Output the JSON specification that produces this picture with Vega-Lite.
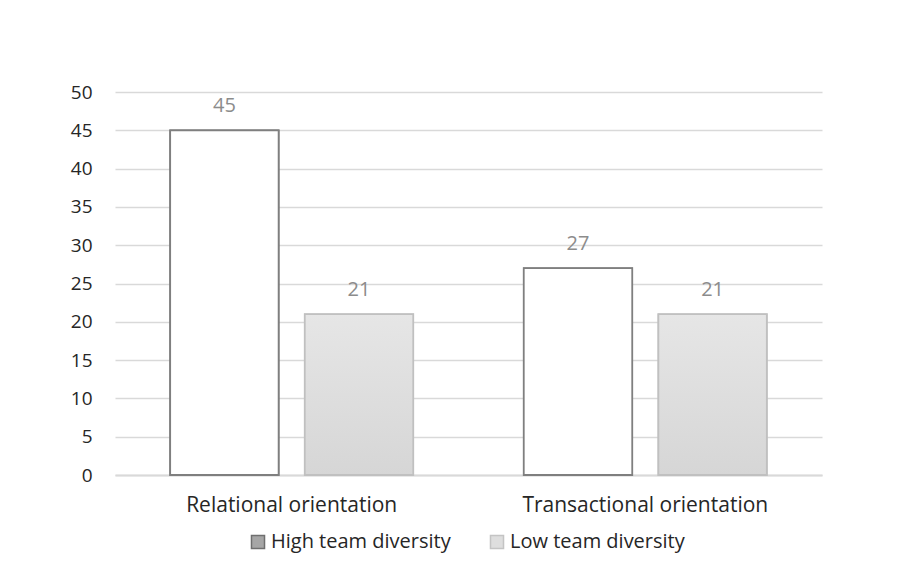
{
  "$schema": "https://vega.github.io/schema/vega-lite/v6.json",
  "autosize": "none",
  "width": 707,
  "height": 383,
  "padding": {"left": 115, "top": 92, "right": 92, "bottom": 97},
  "background": "white",
  "config": {
    "view": {"stroke": null},
    "font": "Open Sans",
    "axis": {"labelFont": "Open Sans", "labelFontSize": 20, "labelColor": "#262626"},
    "legend": {"labelFont": "Open Sans", "labelFontSize": 20, "labelColor": "#262626"}
  },
  "data": {
    "values": [
      {"group": "Relational orientation", "diversity": "High team diversity", "value": 45},
      {"group": "Relational orientation", "diversity": "Low team diversity", "value": 21},
      {"group": "Transactional orientation", "diversity": "High team diversity", "value": 27},
      {"group": "Transactional orientation", "diversity": "Low team diversity", "value": 21}
    ]
  },
  "encoding": {
    "x": {
      "field": "group", "type": "nominal", "title": null,
      "scale": {"paddingInner": 0.3125, "paddingOuter": 0.156},
      "axis": {"labelAngle": 0, "ticks": false, "domain": true, "domainColor": "#d9d9d9", "domainWidth": 2, "labelPadding": 19, "grid": false, "labelLimit": 400, "labelFontSize": 21}
    },
    "xOffset": {
      "field": "diversity", "type": "nominal",
      "scale": {"paddingInner": 0.194, "paddingOuter": 0}
    },
    "y": {
      "field": "value", "type": "quantitative", "title": null,
      "scale": {"domain": [0, 50], "nice": false},
      "axis": {"values": [0,5,10,15,20,25,30,35,40,45,50], "domain": false, "ticks": false, "gridColor": "#d9d9d9", "gridWidth": 1.3, "labelPadding": 23, "labelFontSize": 19}
    }
  },
  "layer": [
    {
      "mark": {"type": "bar", "strokeWidth": 1.5},
      "encoding": {
        "fill": {
          "field": "diversity", "type": "nominal", "title": null,
          "scale": {"domain": ["High team diversity", "Low team diversity"], "range": ["#a6a6a6", "#dedede"]},
          "legend": {
            "orient": "none", "direction": "horizontal", "legendX": 133, "legendY": 440,
            "symbolType": "square", "symbolSize": 170, "symbolStrokeWidth": 1.5,
            "columnPadding": 36, "labelOffset": 3, "labelLimit": 400
          }
        },
        "stroke": {
          "field": "diversity", "type": "nominal", "title": null,
          "scale": {"domain": ["High team diversity", "Low team diversity"], "range": ["#6f6f6f", "#c4c4c4"]}
        }
      }
    },
    {
      "transform": [{"filter": "datum.diversity == 'High team diversity'"}],
      "mark": {"type": "bar", "strokeWidth": 1.8, "stroke": "#7f7f7f", "fill": "#ffffff"}
    },
    {
      "transform": [{"filter": "datum.diversity == 'Low team diversity'"}],
      "mark": {
        "type": "bar", "strokeWidth": 1.8, "stroke": "#c0c0c0",
        "fill": {"gradient": "linear", "x1": 0, "y1": 0, "x2": 0, "y2": 1,
          "stops": [{"offset": 0, "color": "#e6e6e6"}, {"offset": 1, "color": "#d6d6d6"}]}
      }
    },
    {
      "mark": {"type": "text", "baseline": "alphabetic", "dy": -18, "fontSize": 20, "color": "#8c8c8c", "font": "Open Sans"},
      "encoding": {"text": {"field": "value", "type": "quantitative"}}
    }
  ]
}
